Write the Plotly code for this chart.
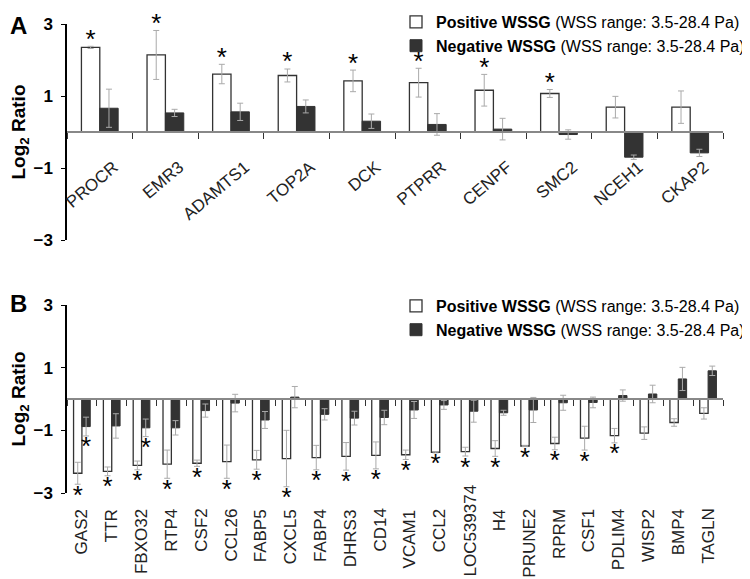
import plotly.graph_objects as go
import numpy as np

# Panel A: upregulated genes
genes_a = ["PROCR", "EMR3", "ADAMTS1", "TOP2A", "DCK", "PTPRR", "CENPF", "SMC2", "NCEH1", "CKAP2"]
pos_a = [2.35, 2.14, 1.61, 1.57, 1.42, 1.37, 1.16, 1.07, 0.69, 0.69]
pos_err_a = [0.03, 0.68, 0.27, 0.18, 0.30, 0.40, 0.44, 0.11, 0.30, 0.45]
neg_a = [0.66, 0.53, 0.56, 0.71, 0.30, 0.21, 0.08, -0.07, -0.70, -0.58]
neg_err_a = [0.53, 0.10, 0.24, 0.18, 0.20, 0.30, 0.30, 0.13, 0.06, 0.10]
sig_pos_a = [1, 1, 1, 1, 1, 1, 1, 1, 0, 0]

# Panel B: downregulated genes
genes_b = ["GAS2", "TTR", "FBXO32", "RTP4", "CSF2", "CCL26", "FABP5", "CXCL5", "FABP4", "DHRS3",
           "CD14", "VCAM1", "CCL2", "LOC539374", "H4", "PRUNE2", "RPRM", "CSF1", "PDLIM4",
           "WISP2", "BMP4", "TAGLN"]
pos_b = [-2.37, -2.31, -2.12, -2.08, -2.05, -2.00, -1.94, -1.90, -1.87, -1.83,
         -1.80, -1.78, -1.70, -1.68, -1.58, -1.50, -1.42, -1.25, -1.17, -1.09, -0.75, -0.46]
pos_err_b = [0.35, 0.14, 0.14, 0.45, 0.10, 0.53, 0.30, 0.90, 0.39, 0.44,
             0.43, 0.15, 0.02, 0.14, 0.25, 0.02, 0.20, 0.38, 0.23, 0.20, 0.12, 0.18]
neg_b = [-0.88, -0.86, -0.92, -0.92, -0.37, -0.13, -0.67, 0.06, -0.49, -0.61,
         -0.59, -0.35, -0.19, -0.39, -0.44, -0.35, -0.12, -0.11, 0.11, 0.16, 0.64, 0.90]
neg_err_b = [0.30, 0.39, 0.28, 0.23, 0.21, 0.28, 0.27, 0.34, 0.18, 0.22,
             0.23, 0.27, 0.14, 0.35, 0.08, 0.40, 0.24, 0.17, 0.18, 0.28, 0.37, 0.15]
sig_pos_b = [1] * 19 + [0] * 3
sig_neg_b = [1, 0, 1] + [0] * 19

name_pos = "<b>Positive WSSG</b> (WSS range: 3.5-28.4 Pa)"
name_neg = "<b>Negative WSSG</b> (WSS range: 3.5-28.4 Pa)"

FONT = "Liberation Sans, Arial, sans-serif"
# the page body has an 8px default margin, so the figure is made that much smaller
OFF = 8
W, H = 750 - OFF, 579 - OFF
BW = 0.28


def px_x(x):
    return (x - OFF) / W


def px_y(y):
    return 1 - (y - OFF) / H


fig = go.Figure()


def add_panel(genes, pos, pos_err, neg, neg_err, xa, ya, leg):
    xi = np.arange(len(genes))
    err_style = dict(type="data", color="#aaaaaa", thickness=1, width=3)
    fig.add_trace(go.Bar(x=xi, y=pos, width=BW, offset=-BW, xaxis=xa, yaxis=ya,
                         marker=dict(color="white", line=dict(color="#333333", width=1.3)),
                         error_y=dict(array=pos_err, **err_style), name=name_pos, legend=leg))
    fig.add_trace(go.Bar(x=xi, y=neg, width=BW, offset=0, xaxis=xa, yaxis=ya,
                         marker=dict(color="#333333", line=dict(color="#333333", width=1)),
                         error_y=dict(array=neg_err, **err_style), name=name_neg, legend=leg))
    return xi, np.array(pos), np.array(neg), np.array(pos_err), np.array(neg_err)


def star_trace(x, y, xa, ya, where):
    fig.add_trace(go.Scatter(x=x, y=y, mode="text", text=["*"] * len(x), xaxis=xa, yaxis=ya,
                             textposition=where, showlegend=False, hoverinfo="skip",
                             cliponaxis=False,
                             textfont=dict(family=FONT, size=26, color="black")))


xi, p, n, pe, ne = add_panel(genes_a, pos_a, pos_err_a, neg_a, neg_err_a, "x", "y", "legend")
m = np.array(sig_pos_a, bool)
star_trace(xi[m] - BW / 2, (p + pe)[m] + 0.14, "x", "y", "middle center")

xi, p, n, pe, ne = add_panel(genes_b, pos_b, pos_err_b, neg_b, neg_err_b, "x2", "y2", "legend2")
m = np.array(sig_pos_b, bool)
star_trace(xi[m] - BW / 2, (p - pe)[m], "x2", "y2", "bottom center")
m = np.array(sig_neg_b, bool)
star_trace(xi[m] + BW / 2, (n - ne)[m], "x2", "y2", "bottom center")

xdom = [px_x(67), px_x(723)]
dom_a = [px_y(240), px_y(24)]
dom_b = [px_y(493), px_y(305)]


def zero_pos(dom):
    return dom[0] + (dom[1] - dom[0]) * 0.5


def xaxis(genes, dom, labels, angle, standoff, shift):
    return dict(domain=xdom, range=[-0.5, len(genes) - 0.5], anchor="free", position=zero_pos(dom),
                showline=True, linecolor="#888888", linewidth=1.5, showgrid=False, zeroline=False,
                automargin=False, showticklabels=labels,
                tickmode="array", tickvals=list(range(len(genes))), ticktext=genes, ticks="",
                tickangle=angle, ticklabelstandoff=standoff, ticklabelshift=shift,
                tickfont=dict(family=FONT, size=17, color="#222222"),
                minor=dict(tickmode="linear", tick0=0.5, dtick=1, ticks="outside", ticklen=6,
                           tickcolor="#333333", tickwidth=1.3))


def yaxis(dom, xa):
    return dict(domain=dom, range=[-3, 3], anchor=xa, tickmode="array", tickvals=[3, 1, -1, -3],
                ticks="outside", ticklen=4, tickcolor="black", showline=True, linecolor="black",
                linewidth=1.5, showgrid=False, zeroline=False, automargin=False,
                ticklabelstandoff=5,
                tickfont=dict(family=FONT, size=17, color="black", weight="bold"),
                title=dict(text="Log<sub>2</sub> Ratio", standoff=14,
                           font=dict(family=FONT, size=19, color="black", weight="bold")))


legend_style = dict(xanchor="right", x=1.0, yanchor="top", bgcolor="rgba(0,0,0,0)",
                    font=dict(family=FONT, size=16, color="black"), itemwidth=30,
                    tracegroupgap=0)

# gene labels for panel B hang below the plot; the longest one is lifted to stay in view
label_top = px_y(507)
annotations = []
for i, g in enumerate(genes_b):
    long_label = len(g) > 8
    annotations.append(dict(text=g, x=i, xref="x2", y=0 if long_label else label_top, yref="paper",
                            yanchor="bottom" if long_label else "top", xanchor="center",
                            textangle=-90, showarrow=False,
                            font=dict(family=FONT, size=17, color="#222222")))
annotations += [
    dict(text="<b>A</b>", x=0, y=px_y(26), xref="paper", yref="paper", xanchor="left",
         yanchor="middle", showarrow=False, font=dict(family=FONT, size=24)),
    dict(text="<b>B</b>", x=0, y=px_y(303), xref="paper", yref="paper", xanchor="left",
         yanchor="middle", showarrow=False, font=dict(family=FONT, size=24)),
]

fig.update_layout(
    width=W, height=H, margin=dict(l=0, r=0, t=0, b=0, autoexpand=False),
    paper_bgcolor="white", plot_bgcolor="white", barmode="overlay",
    font=dict(family=FONT, color="black"),
    xaxis=xaxis(genes_a, dom_a, True, -40, 18, 14),
    yaxis=yaxis(dom_a, "x"),
    xaxis2=xaxis(genes_b, dom_b, False, -90, 104, 0),
    yaxis2=yaxis(dom_b, "x2"),
    legend=dict(y=px_y(5), **legend_style),
    legend2=dict(y=px_y(289), **legend_style),
    annotations=annotations,
)

fig.write_html("out.html")
